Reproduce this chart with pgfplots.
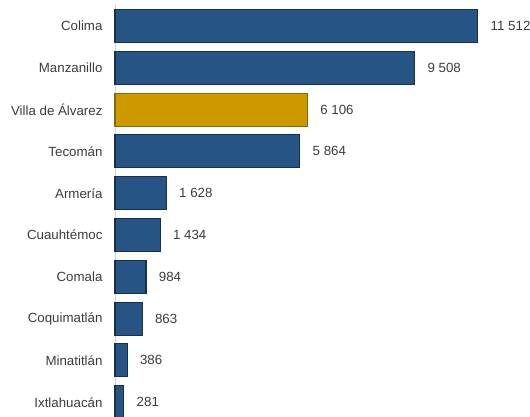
\documentclass[border=0pt]{standalone}
\usepackage{fontspec}
\setmainfont{Liberation Sans}
\usepackage{pgfplots}
\pgfplotsset{compat=1.18}
\definecolor{barblue}{RGB}{38,84,132}
\definecolor{baredge}{RGB}{22,48,80}
\definecolor{bargold}{RGB}{204,153,0}
\definecolor{goldedge}{RGB}{140,105,0}
\definecolor{txt}{RGB}{60,60,60}
\begin{document}
\begin{tikzpicture}
\begin{axis}[
  at={(0,0)}, anchor=origin,
  xbar, bar shift=0pt, bar width=33pt,
  x=0.03153pt, y=41.8pt,
  xmin=0, xmax=13000,
  ymin=-0.5, ymax=9.5,
  y dir=reverse,
  axis x line=none,
  axis y line*=left,
  axis line style={draw=gray!35, -},
  ytick={0,...,9},
  yticklabels={Colima, Manzanillo, Villa de Álvarez, Tecomán, Armería, Cuauhtémoc, Comala, Coquimatlán, Minatitlán, Ixtlahuacán},
  major tick length=0pt,
  yticklabel style={font=\fontsize{13.3}{15}\selectfont, text=txt, xshift=-9pt},
  nodes near coords,
  point meta=explicit symbolic,
  nodes near coords style={font=\fontsize{13.3}{15}\selectfont, text=txt, anchor=west, xshift=9pt},
  clip=false,
]
\addplot[fill=barblue, draw=baredge, line width=1.1pt] coordinates {
  (11512,0) [11 512]
  (9508,1) [9 508]
  (5864,3) [5 864]
  (1628,4) [1 628]
  (1434,5) [1 434]
  (984,6) [984]
  (863,7) [863]
  (386,8) [386]
  (281,9) [281]
};
\addplot[fill=bargold, draw=goldedge, line width=1.1pt] coordinates {
  (6106,2) [6 106]
};
\end{axis}
\pgfresetboundingbox
\useasboundingbox (-115pt,26pt) rectangle (415pt,-391pt);
\end{tikzpicture}
\end{document}
